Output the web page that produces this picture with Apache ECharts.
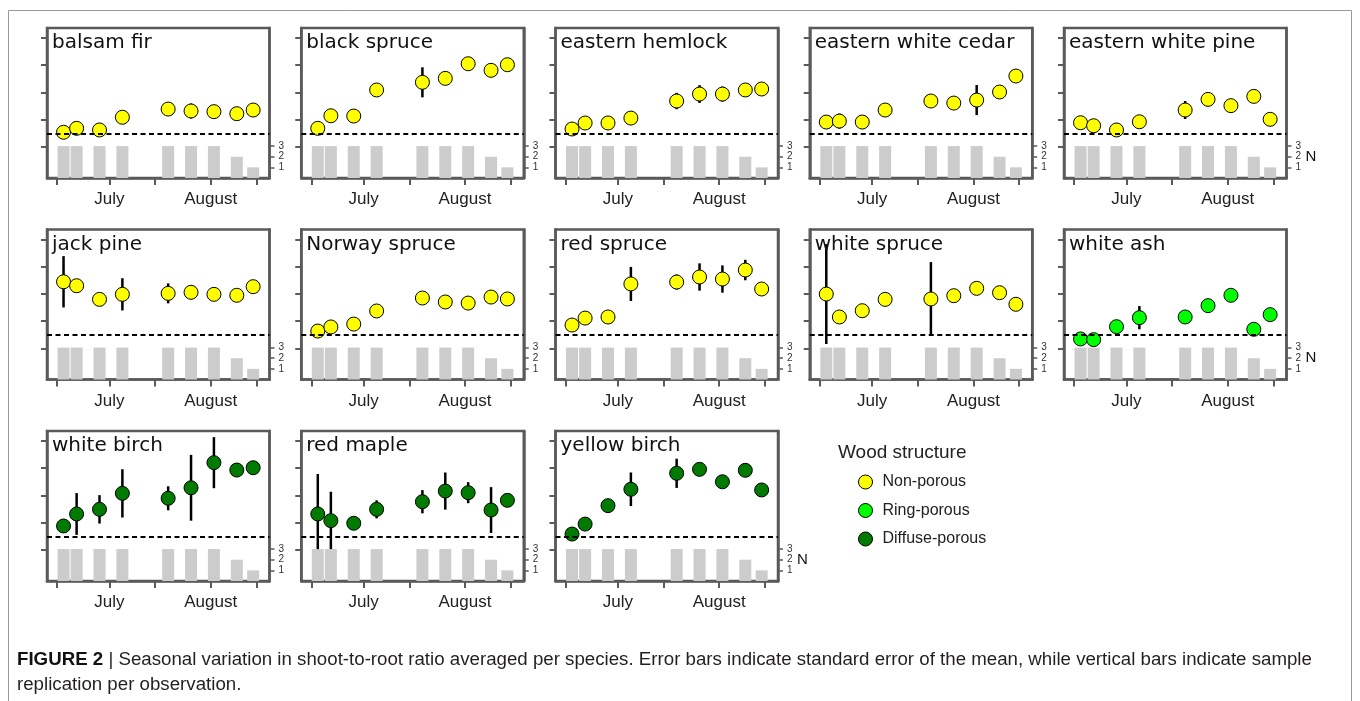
<!DOCTYPE html>
<html>
<head>
<meta charset="utf-8">
<title>Seasonal variation in shoot-to-root ratio</title>
<script src="https://cdn.jsdelivr.net/npm/echarts@6/dist/echarts.min.js"></script>
<style>
  html, body { margin: 0; padding: 0; background: #fff; }
  #main { width: 1360px; height: 701px; }
</style>
</head>
<body>
<div id="main"></div>
<script>
// Sampling dates (day of year) and number of replicate seedlings per date
const sampleDays = [168, 172, 179, 186, 200, 207, 214, 221, 226];
const sampleN = [3, 3, 3, 3, 3, 3, 3, 2, 1];

// Axis ticks: mid/first of month along time, ratio ticks, replicate ticks
const tickDays = [166, 182, 196, 213, 227];
const monthDays = [182, 213];
const monthNames = ['July', 'August'];
const ratioTicks = [0, 2, 4, 6, 8];
const nTicks = [1, 2, 3];
const referenceRatio = 1;

const species = [
  'balsam fir', 'black spruce', 'eastern hemlock', 'eastern white cedar', 'eastern white pine',
  'jack pine', 'Norway spruce', 'red spruce', 'white spruce', 'white ash',
  'white birch', 'red maple', 'yellow birch'
];
const woodStructure = [
  'Non-porous', 'Non-porous', 'Non-porous', 'Non-porous', 'Non-porous',
  'Non-porous', 'Non-porous', 'Non-porous', 'Non-porous', 'Ring-porous',
  'Diffuse-porous', 'Diffuse-porous', 'Diffuse-porous'
];
const woodTypes = ['Non-porous', 'Ring-porous', 'Diffuse-porous'];

// Mean shoot-to-root ratio and its standard error, per species
const balsamFirMean = [1.08, 1.37, 1.25, 2.18, 2.78, 2.64, 2.59, 2.44, 2.71];
const balsamFirSE = [0.2, 0.3, 0.3, 0.2, 0.2, 0.55, 0.2, 0.2, 0.2];
const blackSpruceMean = [1.37, 2.29, 2.27, 4.18, 4.74, 5.03, 6.10, 5.62, 6.03];
const blackSpruceSE = [0.2, 0.2, 0.2, 0.2, 1.1, 0.3, 0.2, 0.2, 0.2];
const easternHemlockMean = [1.32, 1.76, 1.76, 2.12, 3.37, 3.88, 3.88, 4.18, 4.25];
const easternHemlockSE = [0.2, 0.2, 0.2, 0.2, 0.6, 0.65, 0.55, 0.2, 0.2];
const easternWhiteCedarMean = [1.83, 1.90, 1.83, 2.71, 3.37, 3.22, 3.44, 4.03, 5.20];
const easternWhiteCedarSE = [0.2, 0.55, 0.2, 0.2, 0.3, 0.3, 1.1, 0.2, 0.3];
const easternWhitePineMean = [1.78, 1.56, 1.25, 1.85, 2.71, 3.49, 3.03, 3.71, 2.03];
const easternWhitePineSE = [0.2, 0.2, 0.5, 0.2, 0.66, 0.3, 0.2, 0.2, 0.2];
const jackPineMean = [4.89, 4.60, 3.60, 3.97, 4.04, 4.12, 3.97, 3.90, 4.53];
const jackPineSE = [1.88, 0.3, 0.2, 1.18, 0.73, 0.3, 0.3, 0.2, 0.2];
const norwaySpruceMean = [1.28, 1.58, 1.79, 2.75, 3.70, 3.41, 3.33, 3.77, 3.63];
const norwaySpruceSE = [0.2, 0.2, 0.2, 0.2, 0.3, 0.3, 0.3, 0.2, 0.2];
const redSpruceMean = [1.72, 2.23, 2.31, 4.73, 4.87, 5.24, 5.09, 5.75, 4.36];
const redSpruceSE = [0.2, 0.2, 0.2, 1.25, 0.55, 1.0, 1.0, 0.75, 0.2];
const whiteSpruceMean = [3.99, 2.31, 2.77, 3.60, 3.63, 3.87, 4.41, 4.09, 3.24];
const whiteSpruceSE = [3.66, 0.2, 0.2, 0.2, 2.7, 0.2, 0.2, 0.2, 0.2];
const whiteAshMean = [0.70, 0.65, 1.60, 2.26, 2.31, 3.14, 3.90, 1.41, 2.48];
const whiteAshSE = [0.2, 0.2, 0.2, 0.85, 0.2, 0.2, 0.2, 0.2, 0.2];
const whiteBirchMean = [1.76, 2.64, 2.98, 4.15, 3.79, 4.56, 6.40, 5.86, 6.03];
const whiteBirchSE = [0.3, 1.53, 1.04, 1.77, 0.88, 2.41, 1.87, 0.3, 0.3];
const redMapleMean = [2.64, 2.15, 1.96, 2.98, 3.54, 4.32, 4.20, 2.93, 3.64];
const redMapleSE = [2.93, 2.12, 0.3, 0.66, 0.85, 1.36, 0.77, 1.68, 0.3];
const yellowBirchMean = [1.17, 1.90, 3.25, 4.45, 5.62, 5.91, 5.00, 5.84, 4.40];
const yellowBirchSE = [0.2, 0.2, 0.3, 1.23, 1.07, 0.3, 0.3, 0.3, 0.3];

const meanRatio = [
  balsamFirMean, blackSpruceMean, easternHemlockMean, easternWhiteCedarMean, easternWhitePineMean,
  jackPineMean, norwaySpruceMean, redSpruceMean, whiteSpruceMean, whiteAshMean,
  whiteBirchMean, redMapleMean, yellowBirchMean
];
const seRatio = [
  balsamFirSE, blackSpruceSE, easternHemlockSE, easternWhiteCedarSE, easternWhitePineSE,
  jackPineSE, norwaySpruceSE, redSpruceSE, whiteSpruceSE, whiteAshSE,
  whiteBirchSE, redMapleSE, yellowBirchSE
];

const woodColors = { 'Non-porous': '#ffff00', 'Ring-porous': '#00ff00', 'Diffuse-porous': '#007a00' };

// Panel layout
const PANEL_W = 222.5, PANEL_H = 150;
const COL_STEP = 254.25, ROW_STEP = 201.5;
const ORIGIN_X = 47, ORIGIN_Y = 28;
const FRAME = '#5a5a5a';
const SANS = '"Liberation Sans", Arial, sans-serif';
const TITLE_FONT = '"DejaVu Sans", Verdana, sans-serif';

const grids = [], xAxes = [], yAxes = [], series = [], graphics = [];
const nLabelPanels = [];

species.forEach((name, i) => {
  const r = Math.floor(i / 5), c = i % 5;
  const left = ORIGIN_X + c * COL_STEP;
  const top = ORIGIN_Y + r * ROW_STEP;
  if (i === 4 || i === 9 || i === species.length - 1) nLabelPanels.push({ index: i, right: left + PANEL_W });

  grids.push({
    left: left, top: top, width: PANEL_W, height: PANEL_H,
    show: true, borderColor: FRAME, borderWidth: 2.5, backgroundColor: 'transparent'
  });

  xAxes.push({
    gridIndex: i, type: 'value', min: 162.94, max: 231.0,
    axisLine: { show: true, onZero: false, lineStyle: { color: FRAME, width: 2.5 } },
    axisTick: { show: true, customValues: tickDays, length: 7, lineStyle: { color: FRAME, width: 2 } },
    axisLabel: {
      show: true, customValues: monthDays, margin: 13,
      fontSize: 17, fontFamily: SANS, color: '#222',
      formatter: v => monthNames[monthDays.indexOf(v)] || ''
    },
    splitLine: { show: false }
  });

  // left: shoot-to-root ratio (unlabelled ticks)
  yAxes.push({
    gridIndex: i, type: 'value', position: 'left', min: -2.27, max: 8.72,
    axisLine: { show: true, onZero: false, lineStyle: { color: FRAME, width: 2.5 } },
    axisTick: { show: true, customValues: ratioTicks, length: 6, lineStyle: { color: FRAME, width: 2 } },
    axisLabel: { show: false },
    splitLine: { show: false }
  });

  // right: sample replication N
  yAxes.push({
    gridIndex: i, type: 'value', position: 'right', min: 0, max: 14.1,
    axisLine: { show: true, onZero: false, lineStyle: { color: FRAME, width: 2.5 } },
    axisTick: { show: true, customValues: nTicks, length: 5, lineStyle: { color: FRAME, width: 1.5 } },
    axisLabel: {
      show: true, customValues: nTicks, margin: 9,
      fontSize: 10, lineHeight: 10, fontFamily: SANS, color: '#333'
    },
    splitLine: { show: false }
  });

  series.push({
    type: 'bar', name: 'N', xAxisIndex: i, yAxisIndex: 2 * i + 1,
    barWidth: 12, silent: true, z: 2,
    itemStyle: { color: '#cccccc' },
    data: sampleDays.map((d, k) => [d, sampleN[k]])
  });

  series.push({
    type: 'custom', name: 'SE', xAxisIndex: i, yAxisIndex: 2 * i, silent: true, z: 1,
    encode: { x: 0, y: 1 },
    renderItem: (params, api) => {
      const x = api.value(0), m = api.value(1), s = api.value(2);
      const p1 = api.coord([x, m - s]);
      const p2 = api.coord([x, m + s]);
      return {
        type: 'line',
        shape: { x1: p1[0], y1: p1[1], x2: p2[0], y2: p2[1] },
        style: { stroke: '#000', lineWidth: 2.5 }
      };
    },
    data: sampleDays.map((d, k) => [d, meanRatio[i][k], seRatio[i][k]])
  });

  series.push({
    type: 'scatter', name: woodStructure[i], xAxisIndex: i, yAxisIndex: 2 * i,
    symbol: 'circle', symbolSize: 14, z: 3,
    itemStyle: { color: woodColors[woodStructure[i]], borderColor: '#000', borderWidth: 1, opacity: 1 },
    data: sampleDays.map((d, k) => [d, meanRatio[i][k]]),
    markLine: {
      silent: true, symbol: 'none', z: 5,
      label: { show: false },
      lineStyle: { color: '#000', type: [5, 3.5], width: 2 },
      data: [{ yAxis: referenceRatio }]
    }
  });

  graphics.push({
    type: 'text', x: left + 5, y: top + 15, z: 20,
    style: { text: name, fontSize: 20, fontFamily: TITLE_FONT, fill: '#111', verticalAlign: 'middle' }
  });
});

// outer figure frame
graphics.push({
  type: 'rect', z: 0, silent: true,
  shape: { x: 8.5, y: 10.5, width: 1343, height: 720 },
  style: { fill: 'none', stroke: '#999', lineWidth: 1 }
});

// legend heading
graphics.push({
  type: 'text', x: 838, y: 453, z: 20,
  style: { text: 'Wood structure', fontSize: 19, fontFamily: SANS, fill: '#222', verticalAlign: 'middle' }
});

// caption
graphics.push({
  type: 'text', x: 17, y: 660, z: 20,
  style: {
    text: '{b|FIGURE 2} | Seasonal variation in shoot-to-root ratio averaged per species. Error bars indicate standard error of the mean, while vertical bars indicate sample',
    rich: { b: { fontWeight: 'bold', fontSize: 18.7, fontFamily: SANS, fill: '#111' } },
    fontSize: 18.7, fontFamily: SANS, fill: '#231f20', verticalAlign: 'middle'
  }
});
graphics.push({
  type: 'text', x: 17, y: 685, z: 20,
  style: { text: 'replication per observation.', fontSize: 18.7, fontFamily: SANS, fill: '#231f20', verticalAlign: 'middle' }
});

const chart = echarts.init(document.getElementById('main'), null, { renderer: 'canvas' });
chart.setOption({
  animation: false,
  backgroundColor: '#fff',
  grid: grids,
  xAxis: xAxes,
  yAxis: yAxes,
  legend: {
    data: woodTypes, orient: 'vertical', left: 858, top: 474, padding: 0,
    icon: 'circle', itemWidth: 14, itemHeight: 14, itemGap: 12.5,
    selectedMode: false,
    itemStyle: { borderColor: '#000', borderWidth: 1 },
    textStyle: { fontSize: 16, fontFamily: SANS, color: '#222', lineHeight: 16, padding: [0, 0, 0, 5] }
  },
  graphic: graphics,
  series: series
});

// "N" axis title beside the middle replicate tick of the last panel in each row
const nTitles = nLabelPanels.map(p => ({
  type: 'text', z: 20,
  x: p.right + 19,
  y: chart.convertToPixel({ yAxisIndex: 2 * p.index + 1 }, 2),
  style: { text: 'N', fontSize: 15, fontFamily: SANS, fill: '#111', verticalAlign: 'middle' }
}));
chart.setOption({ graphic: graphics.concat(nTitles) });
</script>
</body>
</html>
